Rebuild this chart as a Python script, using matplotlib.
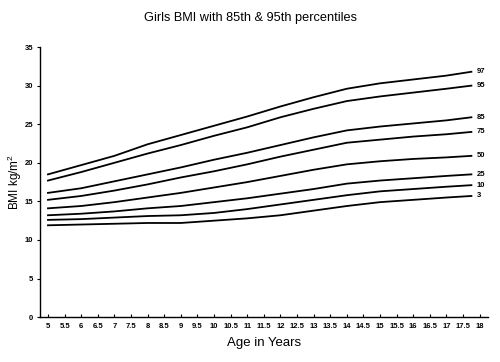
import matplotlib
matplotlib.use("Agg")
import matplotlib.pyplot as plt
import numpy as np

plt.rcParams['font.family'] = ['Liberation Sans', 'DejaVu Sans']
plt.rcParams['mathtext.fontset'] = 'custom'
plt.rcParams['mathtext.rm'] = 'Liberation Sans'

ages = [5, 6, 7, 8, 9, 10, 11, 12, 13, 14, 15, 16, 17, 17.75]
p97 = [18.5, 19.7, 20.9, 22.4, 23.6, 24.8, 26.0, 27.3, 28.5, 29.6, 30.3, 30.8, 31.3, 31.8]
p95 = [17.7, 18.8, 20.0, 21.2, 22.3, 23.5, 24.6, 25.9, 27.0, 28.0, 28.6, 29.1, 29.6, 30.0]
p85 = [16.1, 16.7, 17.6, 18.5, 19.4, 20.4, 21.3, 22.3, 23.3, 24.2, 24.7, 25.1, 25.5, 25.9]
p75 = [15.2, 15.7, 16.4, 17.2, 18.1, 18.9, 19.8, 20.8, 21.7, 22.6, 23.0, 23.4, 23.7, 24.0]
p50 = [14.1, 14.4, 14.9, 15.5, 16.1, 16.8, 17.5, 18.3, 19.1, 19.8, 20.2, 20.5, 20.7, 20.9]
p25 = [13.2, 13.4, 13.7, 14.1, 14.4, 14.9, 15.4, 16.0, 16.6, 17.3, 17.7, 18.0, 18.3, 18.5]
p10 = [12.6, 12.7, 12.9, 13.1, 13.2, 13.5, 14.0, 14.6, 15.2, 15.8, 16.3, 16.6, 16.9, 17.1]
p3 = [11.9, 12.0, 12.1, 12.2, 12.2, 12.5, 12.8, 13.2, 13.8, 14.4, 14.9, 15.2, 15.5, 15.7]

series = [("97", p97), ("95", p95), ("85", p85), ("75", p75),
          ("50", p50), ("25", p25), ("10", p10), ("3", p3)]

xticks = np.arange(5, 18.01, 0.5)
xticklabels = [("%g" % t) for t in xticks]
yticks = [0, 5, 10, 15, 20, 25, 30, 35]

fig = plt.figure(figsize=(5, 3.62), dpi=100)
ax = fig.add_axes([0.08, 0.124, 0.896, 0.746])

for name, vals in series:
    ax.plot(ages, vals, color='black', lw=1.3)
    ax.text(ages[-1] + 0.15, vals[-1], name, fontsize=5.5, fontweight='bold',
            va='center', ha='left')

ax.set_xlim(4.76, 18.25)
ax.set_ylim(0, 35)
ax.set_xticks(xticks)
ax.set_xticklabels(xticklabels, fontsize=5.5, fontweight='bold')
ax.set_yticks(yticks)
ax.set_yticklabels([str(y) for y in yticks], fontsize=5.5, fontweight='bold')
ax.tick_params(axis='both', length=2.5, width=0.8)
ax.tick_params(axis='y', pad=2.5)
ax.tick_params(axis='x', direction='in', pad=4)
for s in ['top', 'right']:
    ax.spines[s].set_visible(False)
for s in ['left', 'bottom']:
    ax.spines[s].set_linewidth(1.0)

fig.text(0.5, 0.95, "Girls BMI with 85th & 95th percentiles", ha='center',
         va='center', fontsize=9.2)
ax.set_xlabel("Age in Years", fontsize=9.5, labelpad=5)
ax.set_ylabel("BMI kg/m$^2$", fontsize=8.5)
ax.yaxis.set_label_coords(-0.036, 0.5)

fig.savefig("out.png", dpi=100)
